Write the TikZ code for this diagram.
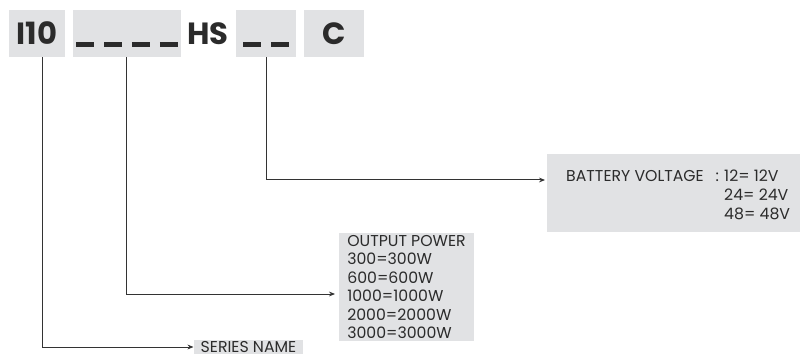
\documentclass[tikz,border=0pt]{standalone}
\usepackage{fontspec}
\setmainfont{Poppins}
\usepackage{xcolor}
\usetikzlibrary{positioning,arrows.meta}
\definecolor{boxgray}{HTML}{E1E2E4}
\definecolor{linegray}{HTML}{333333}
\definecolor{textgray}{HTML}{2B2B2B}
\newcommand{\codedash}{\rule[-1.9pt]{13.5pt}{4.2pt}}
\newcommand{\dashgap}{\hspace{7.4pt}}

\begin{document}
\begin{tikzpicture}[x=0.75pt,y=-0.75pt,->,>={Stealth[length=4.5pt,width=3.6pt]},line width=0.75pt,draw=linegray]
    \tikzstyle{codebox}=[fill=boxgray,minimum height=35.25pt,inner sep=0pt,font=\fontsize{23}{23}\selectfont\bfseries,text=textgray,text height=17pt,text depth=0pt]
    \tikzstyle{infobox}=[fill=boxgray,inner sep=0pt,font=\fontsize{11.8}{13.8}\selectfont,text=textgray]
    \useasboundingbox (0,0) rectangle (800,356);

    % model code
    \node[codebox,minimum width=42pt] (series-code) at (37,33.5)  {I10};
    \node[codebox,minimum width=81pt] (power-code)  at (127,33.5) {\codedash\dashgap\codedash\dashgap\codedash\dashgap\codedash};
    \node[codebox,fill=none]          (hs)          at (208,33.5) {HS};
    \node[codebox,minimum width=45pt] (volt-code)   at (266,33.5) {\codedash\dashgap\codedash};
    \node[codebox,minimum width=45pt] (c-code)      at (334,33.5) {C};

    % explanations
    \node[infobox,font=\fontsize{11.8}{14.3}\selectfont,minimum width=189.75pt,minimum height=58.5pt,text height=30pt] (battery) at (673.5,193)
        {\hspace*{7pt}\begin{tabular}{@{}l@{\hspace{4pt}}l@{}}
         BATTERY VOLTAGE\hspace{0.75em}: & 12= 12V \\
                                         & 24= 24V \\
                                         & 48= 48V
         \end{tabular}};
    \node[infobox,minimum width=101.25pt,minimum height=81pt,align=left] (output) at (406.5,287)
        {OUTPUT POWER\\300=300W\\600=600W\\1000=1000W\\2000=2000W\\3000=3000W};
    \node[infobox,minimum width=81.75pt,text height=7.5pt,text depth=0pt,inner ysep=1.2pt] (series) at (248.5,347)
        {SERIES NAME};

    \coordinate (battery-in) at (545,180);
    \coordinate (output-in)  at (335,294);

    % connectors
    \draw ([xshift=3.75pt]series-code.south) |- (series.west);
    \draw ([xshift=-0.75pt]power-code.south) |- (output-in);
    \draw (volt-code.south) |- (battery-in);
\end{tikzpicture}
\end{document}
